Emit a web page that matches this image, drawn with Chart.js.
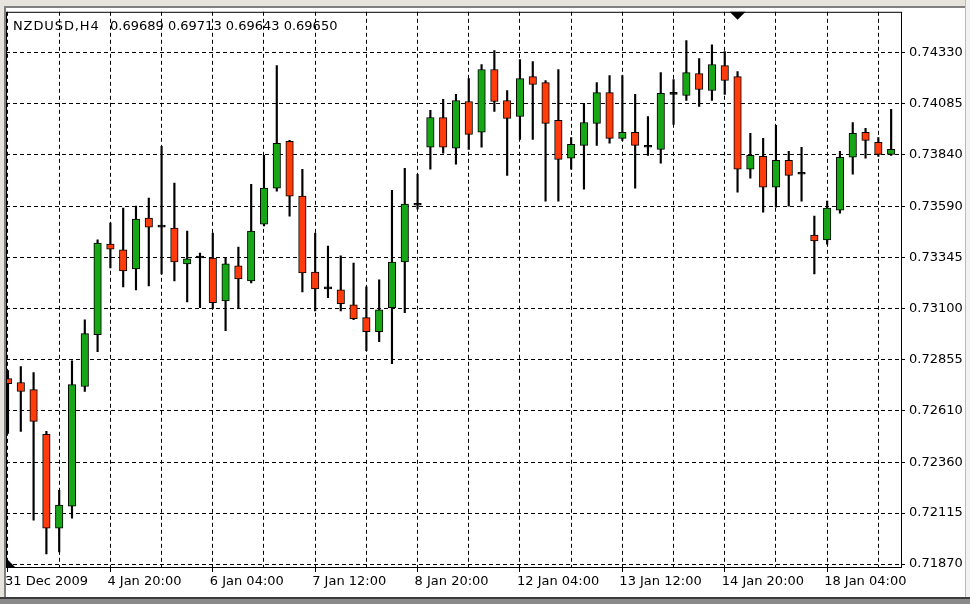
<!DOCTYPE html>
<html>
<head>
<meta charset="utf-8">
<script src="https://cdn.jsdelivr.net/npm/chart.js@4.4.1/dist/chart.umd.min.js"></script>
<style>
html, body { margin: 0; padding: 0; width: 970px; height: 604px; overflow: hidden; background: #e6e4dc; }
#paper { position: absolute; left: 4px; top: 6px; width: 962px; height: 592px; background: #fff;
  border-left: 2px solid #808080; border-top: 2px solid #808080; box-sizing: border-box; }
#edge { position: absolute; left: 965px; top: 0; width: 5px; height: 598px; background: #f2f2f2;
  border-left: 1px solid #a8bce8; box-sizing: border-box; }
#foot { position: absolute; left: 0; top: 597px; width: 970px; height: 7px; background: #8a8a8a;
  border-top: 2px solid #3c3c3c; box-sizing: border-box; }
canvas { position: absolute; left: 0; top: 0; }
</style>
</head>
<body>
<div id="paper"></div>
<div id="edge"></div>
<div id="foot"></div>
<canvas id="candle-chart" width="970" height="604"></canvas>
<script>
'use strict';

var symbolName = 'NZDUSD,H4';
var lastQuote = ['0.69689', '0.69713', '0.69643', '0.69650'];
var timeLabels = ['31 Dec 2009', '4 Jan 20:00', '6 Jan 04:00', '7 Jan 12:00', '8 Jan 20:00',
    '12 Jan 04:00', '13 Jan 12:00', '14 Jan 20:00', '18 Jan 04:00'];
var priceTicks = ['0.71870', '0.72115', '0.72360', '0.72610', '0.72855', '0.73100',
    '0.73345', '0.73590', '0.73840', '0.74085', '0.74330'];

// H4 bars, oldest first
var opens = [0.72762, 0.72743, 0.72709, 0.72494, 0.72043, 0.72148, 0.72724, 0.72973, 0.73409, 0.73381,
    0.73290, 0.73534, 0.73491, 0.73486, 0.73314, 0.73342, 0.73342, 0.73136, 0.73304, 0.73232,
    0.73505, 0.73678, 0.73903, 0.73640, 0.73275, 0.73194, 0.73189, 0.73117, 0.73055, 0.72988,
    0.73103, 0.73323, 0.73596, 0.73875, 0.74018, 0.73870, 0.74095, 0.73947, 0.74249, 0.74100,
    0.74023, 0.74215, 0.74186, 0.74004, 0.73822, 0.73884, 0.73990, 0.74138, 0.73918, 0.73947,
    0.73875, 0.73865, 0.74129, 0.74124, 0.74229, 0.74148, 0.74268, 0.74215, 0.73769, 0.73831,
    0.73683, 0.73812, 0.73745, 0.73453, 0.73429, 0.73572, 0.73827, 0.73947, 0.73899, 0.73841];
var highs = [0.72800, 0.72820, 0.72791, 0.72508, 0.72225, 0.72848, 0.73045, 0.73429, 0.73510, 0.73582,
    0.73592, 0.73630, 0.73879, 0.73702, 0.73472, 0.73366, 0.73462, 0.73342, 0.73395, 0.73697,
    0.73836, 0.74268, 0.73908, 0.73769, 0.73462, 0.73400, 0.73352, 0.73318, 0.73203, 0.73237,
    0.73668, 0.73774, 0.73745, 0.74052, 0.74105, 0.74129, 0.74205, 0.74273, 0.74340, 0.74148,
    0.74297, 0.74287, 0.74196, 0.74249, 0.73922, 0.74086, 0.74186, 0.74220, 0.74220, 0.74129,
    0.74023, 0.74234, 0.74201, 0.74388, 0.74301, 0.74368, 0.74335, 0.74239, 0.73942, 0.73918,
    0.73980, 0.73855, 0.73875, 0.73544, 0.73616, 0.73855, 0.73994, 0.73966, 0.73922, 0.74057];
var lows = [0.72498, 0.72508, 0.72081, 0.71918, 0.71928, 0.72091, 0.72700, 0.72892, 0.73294, 0.73203,
    0.73189, 0.73208, 0.73266, 0.73232, 0.73131, 0.73103, 0.73098, 0.72992, 0.73103, 0.73222,
    0.73496, 0.73664, 0.73544, 0.73179, 0.73088, 0.73151, 0.73088, 0.73045, 0.72896, 0.72940,
    0.72834, 0.73079, 0.73577, 0.73769, 0.73846, 0.73793, 0.73865, 0.73875, 0.74047, 0.73740,
    0.73913, 0.73913, 0.73616, 0.73616, 0.73769, 0.73673, 0.73884, 0.73894, 0.73908, 0.73678,
    0.73836, 0.73798, 0.73985, 0.74100, 0.74071, 0.74100, 0.74129, 0.73659, 0.73726, 0.73563,
    0.73587, 0.73592, 0.73616, 0.73266, 0.73409, 0.73558, 0.73745, 0.73822, 0.73831, 0.73836];
var closes = [0.72738, 0.72700, 0.72556, 0.72043, 0.72153, 0.72733, 0.72978, 0.73414, 0.73385, 0.73280,
    0.73529, 0.73491, 0.73491, 0.73323, 0.73338, 0.73342, 0.73127, 0.73314, 0.73242, 0.73472,
    0.73678, 0.73894, 0.73640, 0.73270, 0.73194, 0.73194, 0.73122, 0.73050, 0.72988, 0.73093,
    0.73323, 0.73601, 0.73596, 0.74018, 0.73875, 0.74100, 0.73937, 0.74249, 0.74095, 0.74014,
    0.74205, 0.74177, 0.73990, 0.73817, 0.73889, 0.73994, 0.74138, 0.73918, 0.73947, 0.73884,
    0.73875, 0.74134, 0.74129, 0.74234, 0.74153, 0.74273, 0.74196, 0.73769, 0.73836, 0.73683,
    0.73812, 0.73740, 0.73745, 0.73424, 0.73582, 0.73827, 0.73942, 0.73908, 0.73841, 0.73865];

var barsPerGrid = 4;
var barsPerLabel = 8;
var shiftBar = 57;

Chart.defaults.font.family = 'DejaVu Sans';
Chart.defaults.font.size = 13;
Chart.defaults.color = '#000';

var bodyData = opens.map(function(o, i) {
    return {x: i, y: [o, closes[i]]};
});
var wickData = lows.map(function(l, i) {
    return {x: i, y: [l, highs[i]]};
});
var bodyColors = opens.map(function(o, i) {
    if (o === closes[i]) return '#000';
    return closes[i] > o ? '#16a616' : '#ff3c0a';
});

// frame, shift markers and the quote line, the way the terminal draws them
var terminalDecor = {
    id: 'terminalDecor',
    afterDatasetsDraw: function(chart) {
        var ctx = chart.ctx, a = chart.chartArea;
        ctx.save();
        ctx.strokeStyle = '#000';
        ctx.lineWidth = 1;
        ctx.strokeRect(a.left + 0.5, a.top + 0.5, a.right - a.left, a.bottom - a.top);
        var sx = chart.scales.x.getPixelForValue(shiftBar);
        ctx.fillStyle = '#000';
        ctx.beginPath();
        ctx.moveTo(sx - 8, a.top);
        ctx.lineTo(sx + 8, a.top);
        ctx.lineTo(sx, a.top + 8);
        ctx.fill();
        ctx.beginPath();
        ctx.moveTo(a.left, a.bottom - 9);
        ctx.lineTo(a.left, a.bottom + 1);
        ctx.lineTo(a.left + 10, a.bottom + 1);
        ctx.fill();
        ctx.font = '13px "DejaVu Sans"';
        ctx.textBaseline = 'alphabetic';
        ctx.letterSpacing = '0.9px';
        ctx.fillText(symbolName, a.left + 7, a.top + 18);
        ctx.letterSpacing = '0px';
        ctx.fillText(lastQuote.join(' '), a.left + 104, a.top + 18);
        ctx.restore();
    }
};

var ctx = document.getElementById('candle-chart').getContext('2d');
var candleChart = new Chart(ctx, {
    "type": "bar",
    "data": {
        "datasets": [{
            "label": "wick",
            "data": wickData,
            "backgroundColor": '#000',
            "borderWidth": 0,
            "barThickness": 1.5,
            "grouped": false,
            "order": 2
        }, {
            "label": "body",
            "data": bodyData,
            "backgroundColor": bodyColors,
            "borderColor": '#000',
            "borderWidth": 1,
            "borderSkipped": false,
            "barThickness": 7.5,
            "minBarLength": 2,
            "grouped": false,
            "order": 1
        }]
    },
    "options": {
        "responsive": false,
        "animation": false,
        "events": [],
        "layout": {"padding": {"left": 6, "top": 10, "right": 5, "bottom": 7}},
        "plugins": {"legend": {"display": false}, "tooltip": {"enabled": false}},
        "scales": {
            "x": {
                "type": "linear",
                "min": -0.156,
                "max": 69.77,
                "offset": false,
                "grid": {
                    "offset": false,
                    "color": '#000',
                    "lineWidth": 1,
                    "tickLength": 5,
                    "tickColor": function(c) {
                        return c.tick && c.tick.value % barsPerLabel === 0 ? '#000' : 'rgba(0,0,0,0)';
                    }
                },
                "border": {"display": false, "dash": [4, 3]},
                "afterBuildTicks": function(scale) {
                    var t = [];
                    for (var v = 0; v < opens.length; v += barsPerGrid) t.push({value: v});
                    scale.ticks = t;
                },
                "afterFit": function(scale) { scale.height = 30; },
                "ticks": {
                    "autoSkip": false,
                    "maxRotation": 0,
                    "minRotation": 0,
                    "align": "start",
                    "labelOffset": -3,
                    "padding": 2,
                    "callback": function(value) {
                        return value % barsPerLabel === 0 ? timeLabels[value / barsPerLabel] : '';
                    }
                }
            },
            "y": {
                "position": "right",
                "min": 0.718556,
                "max": 0.745266,
                "grid": {"color": '#000', "lineWidth": 1, "tickLength": 4, "tickColor": '#000'},
                "border": {"display": false, "dash": [4, 3]},
                "afterBuildTicks": function(scale) {
                    scale.ticks = priceTicks.map(function(p) { return {value: parseFloat(p)}; });
                },
                "afterFit": function(scale) { scale.width = 64; },
                "ticks": {
                    "autoSkip": false,
                    "padding": 4,
                    "callback": function(value) { return value.toFixed(5); }
                }
            }
        }
    },
    "plugins": [terminalDecor]
});
</script>
</body>
</html>
